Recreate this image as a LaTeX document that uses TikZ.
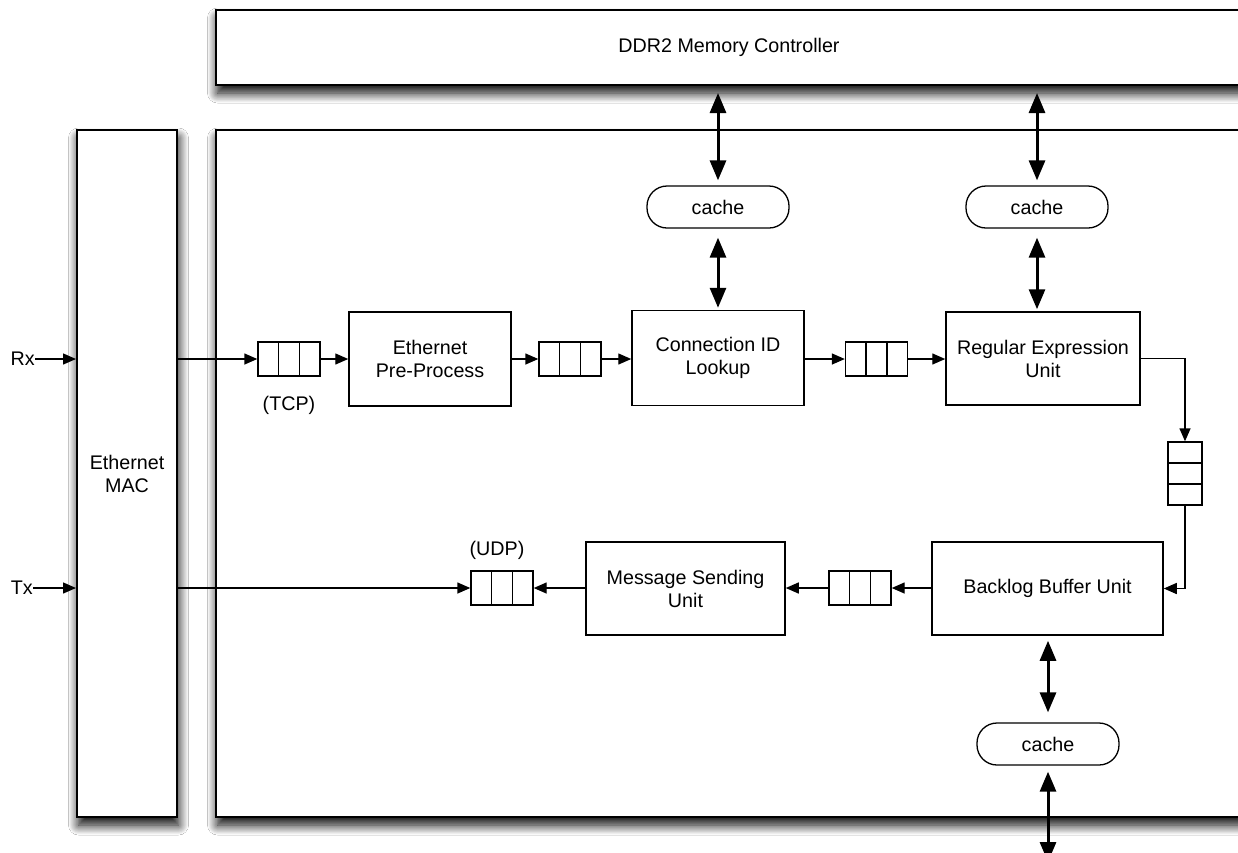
\documentclass[tikz,border=0pt]{standalone}
\usepackage{fontspec}
\setmainfont{Liberation Sans}
\usetikzlibrary{arrows.meta,calc,shadows.blur}

\tikzset{
  txt/.style={font=\fontsize{19.7}{23}\selectfont, align=center},
  bigbox/.style={draw, line width=2pt, fill=white, inner sep=0pt,
    blur shadow={shadow xshift=1.5pt, shadow yshift=-8pt,
      shadow blur radius=10pt, shadow blur steps=16, shadow opacity=100}},
  unit/.style={txt, draw, line width=1.5pt, fill=white, inner sep=0pt},
  cachebox/.style={txt, draw, line width=1.3pt, rounded corners=20pt,
    minimum width=142pt, minimum height=42pt, inner sep=0pt},
  fifo/.style={draw, line width=1.4pt, minimum width=62pt, minimum height=34pt,
    inner sep=0pt, path picture={
      \foreach \f in {0.333,0.667}{
        \draw[line width=1.4pt]
          ($(path picture bounding box.north west)!\f!(path picture bounding box.north east)$) --
          ($(path picture bounding box.south west)!\f!(path picture bounding box.south east)$);}}},
  vfifo/.style={draw, line width=1.4pt, minimum width=34pt, minimum height=63pt,
    inner sep=0pt, path picture={
      \foreach \f in {0.333,0.667}{
        \draw[line width=1.4pt]
          ($(path picture bounding box.north west)!\f!(path picture bounding box.south west)$) --
          ($(path picture bounding box.north east)!\f!(path picture bounding box.south east)$);}}},
  flow/.style={line width=1.4pt, -{Triangle[length=13pt,width=11pt]}},
  dbl/.style={line width=3pt,
    {Triangle[length=20pt,width=16pt]}-{Triangle[length=20pt,width=16pt]}},
}

\begin{document}
\begin{tikzpicture}[x=1pt,y=-1pt]
  \useasboundingbox (0,0) rectangle (1238,852);
  \clip (0,0) rectangle (1238,852);
  \fill[white] (0,0) rectangle (1238,852);

  % outer blocks
  \node[bigbox, txt, minimum width=1026pt, minimum height=75pt] (ddr) at (729,47.5)
    {DDR2 Memory Controller};
  \node[bigbox, minimum width=1026pt, minimum height=687pt] (core) at (729,473.5) {};
  \node[bigbox, txt, minimum width=100pt, minimum height=687pt] (mac) at (127,473.5)
    {Ethernet\\MAC};

  % external ports
  \node[txt, anchor=east, inner sep=0pt] (rx) at (35,359) {Rx};
  \node[txt, anchor=east, inner sep=0pt] (tx) at (33,588) {Tx};

  % receive path
  \node[fifo] (q1) at (289,359) {};
  \node[txt, inner sep=0pt] (tcp) at (289,405) {(TCP)};
  \node[unit, minimum width=162pt, minimum height=94pt] (epp) at (430,359)
    {Ethernet\\Pre-Process};
  \node[fifo] (q2) at (570,359) {};
  \node[unit, minimum width=172pt, minimum height=95pt] (cid) at (718,358)
    {Connection ID\\Lookup};
  \node[fifo] (q3) at (876.5,359) {};
  \node[unit, minimum width=194pt, minimum height=93pt] (reu) at (1043,358.5)
    {Regular Expression\\Unit};
  \node[vfifo] (q5) at (1185,473.5) {};

  % transmit path
  \node[unit, minimum width=231pt, minimum height=93pt] (bbu) at (1047.5,588.5)
    {Backlog Buffer Unit};
  \node[fifo] (q4) at (860,588) {};
  \node[unit, minimum width=199pt, minimum height=93pt] (msu) at (685.5,588.5)
    {Message Sending\\Unit};
  \node[fifo] (q6) at (502,588) {};
  \node[txt, inner sep=0pt] (udp) at (497,550) {(UDP)};

  % caches
  \node[cachebox] (c1) at (718,207) {cache};
  \node[cachebox] (c2) at (1037,207) {cache};
  \node[cachebox] (c3) at (1048,744) {cache};
  \coordinate (memout) at (1048,862);

  % data flow
  \draw[flow] (rx.east) -- (rx.east -| mac.west);
  \draw[flow] (tx.east) -- (tx.east -| mac.west);
  \draw[flow] (mac.east |- q1.west) -- (q1.west);
  \draw[flow] (q1.east) -- (epp.west |- q1.east);
  \draw[flow] (epp.east |- q2.west) -- (q2.west);
  \draw[flow] (q2.east) -- (cid.west |- q2.east);
  \draw[flow] (cid.east |- q3.west) -- (q3.west);
  \draw[flow] (q3.east) -- (reu.west |- q3.east);
  \draw[flow] (reu.east) -| (q5.north);
  \draw[flow] (q5.south) |- (bbu.east);
  \draw[flow] (bbu.west |- q4.east) -- (q4.east);
  \draw[flow] (q4.west) -- (msu.east |- q4.west);
  \draw[flow] (msu.west |- q6.east) -- (q6.east);
  \draw[flow] (mac.east |- q6.west) -- (q6.west);

  % memory traffic
  \draw[dbl, shorten <=7pt, shorten >=5pt] (c1 |- ddr.south) -- (c1.north);
  \draw[dbl, shorten <=9pt, shorten >=2pt] (c1.south) -- (c1.south |- cid.north);
  \draw[dbl, shorten <=7pt, shorten >=5pt] (c2 |- ddr.south) -- (c2.north);
  \draw[dbl, shorten <=9pt, shorten >=2pt] (c2.south) -- (c2.south |- reu.north);
  \draw[dbl, shorten <=5pt, shorten >=10pt] (c3 |- bbu.south) -- (c3.north);
  \draw[dbl, shorten <=6pt] (c3.south) -- (memout);
\end{tikzpicture}
\end{document}
